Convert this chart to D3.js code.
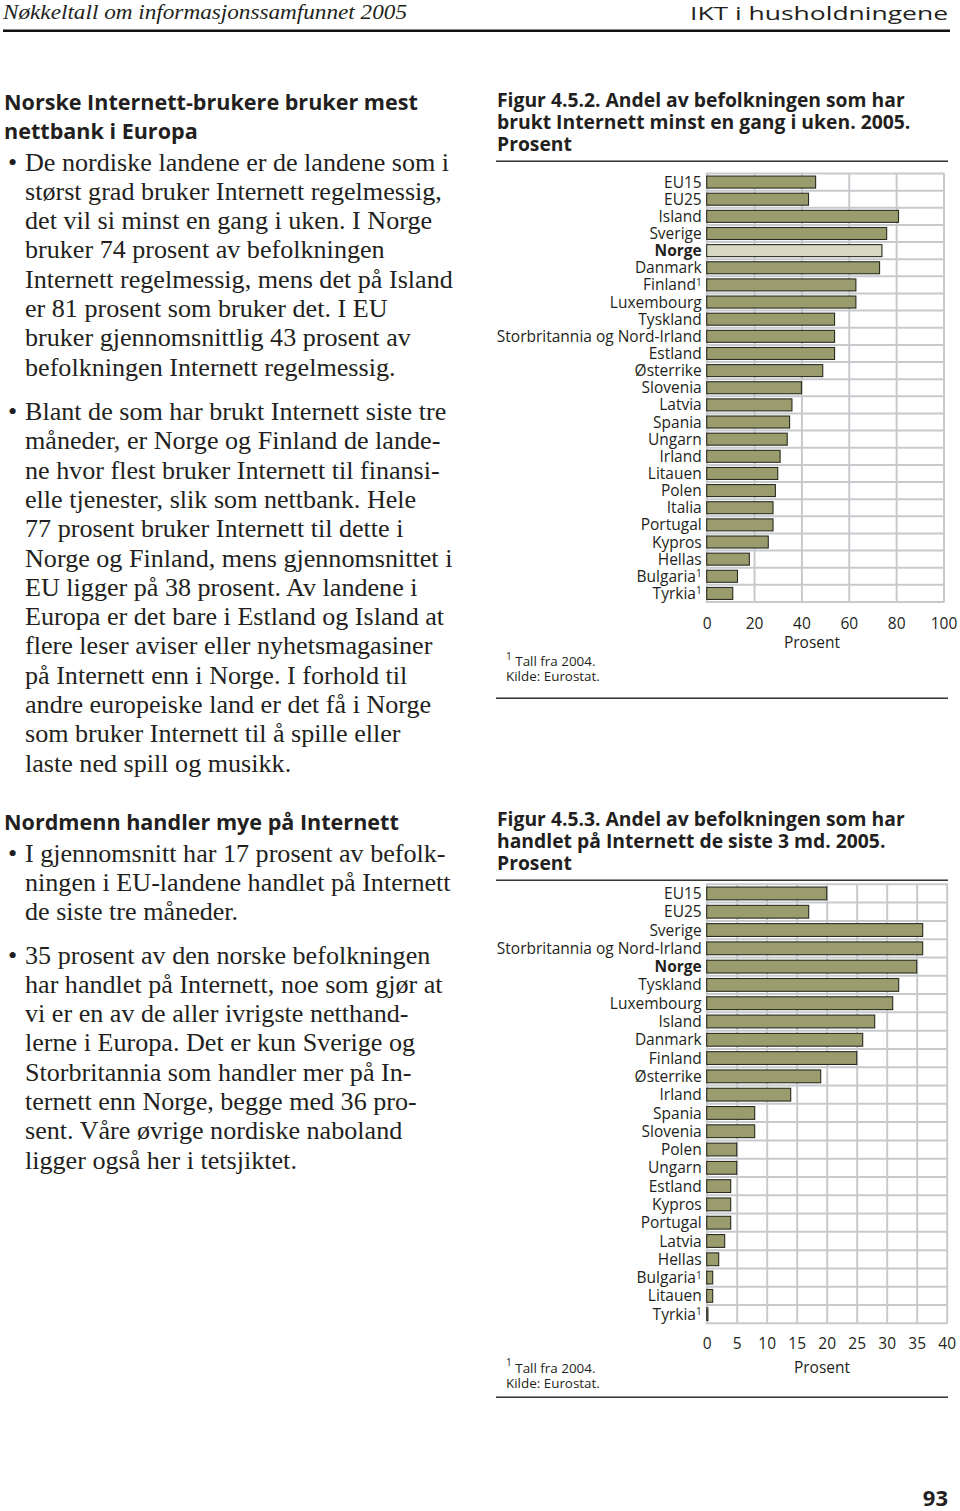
<!DOCTYPE html>
<html><head><meta charset="utf-8">
<script src="https://cdn.jsdelivr.net/npm/d3@7"></script>
<style>body{margin:0;background:#fff} svg{display:block}</style>
</head><body>
<script>
// ---------- DATA ----------
const countries1 = ["EU15","EU25","Island","Sverige","Norge","Danmark","Finland","Luxembourg","Tyskland","Storbritannia og Nord-Irland","Estland","Østerrike","Slovenia","Latvia","Spania","Ungarn","Irland","Litauen","Polen","Italia","Portugal","Kypros","Hellas","Bulgaria","Tyrkia"];
const values1 = [46,43,81,76,74,73,63,63,54,54,54,49,40,36,35,34,31,30,29,28,28,26,18,13,11];
const footnoted1 = ["Finland","Bulgaria","Tyrkia"];
const ticks1 = [0,20,40,60,80,100];

const countries2 = ["EU15","EU25","Sverige","Storbritannia og Nord-Irland","Norge","Tyskland","Luxembourg","Island","Danmark","Finland","Østerrike","Irland","Spania","Slovenia","Polen","Ungarn","Estland","Kypros","Portugal","Latvia","Hellas","Bulgaria","Litauen","Tyrkia"];
const values2 = [20,17,36,36,35,32,31,28,26,25,19,14,8,8,5,5,4,4,4,3,2,1,1,0.2];
const footnoted2 = ["Bulgaria","Tyrkia"];
const ticks2 = [0,5,10,15,20,25,30,35,40];

const title1 = ["Figur 4.5.2. Andel av befolkningen som har","brukt Internett minst en gang i uken. 2005.","Prosent"];
const title2 = ["Figur 4.5.3. Andel av befolkningen som har","handlet på Internett de siste 3 md. 2005.","Prosent"];
const axisTitle = "Prosent";
const footnote = ["Tall fra 2004.","Kilde: Eurostat."];

const head1 = ["Norske Internett-brukere bruker mest","nettbank i Europa"];
const bullets1 = [
 ["De nordiske landene er de landene som i","størst grad bruker Internett regelmessig,","det vil si minst en gang i uken. I Norge","bruker 74 prosent av befolkningen","Internett regelmessig, mens det på Island","er 81 prosent som bruker det. I EU","bruker gjennomsnittlig 43 prosent av","befolkningen Internett regelmessig."],
 ["Blant de som har brukt Internett siste tre","måneder, er Norge og Finland de lande-","ne hvor flest bruker Internett til finansi-","elle tjenester, slik som nettbank. Hele","77 prosent bruker Internett til dette i","Norge og Finland, mens gjennomsnittet i","EU ligger på 38 prosent. Av landene i","Europa er det bare i Estland og Island at","flere leser aviser eller nyhetsmagasiner","på Internett enn i Norge. I forhold til","andre europeiske land er det få i Norge","som bruker Internett til å spille eller","laste ned spill og musikk."]
];
const head2 = ["Nordmenn handler mye på Internett"];
const bullets2 = [
 ["I gjennomsnitt har 17 prosent av befolk-","ningen i EU-landene handlet på Internett","de siste tre  måneder."],
 ["35 prosent av den norske befolkningen","har handlet på Internett, noe som gjør at","vi er en av de aller ivrigste netthand-","lerne i Europa. Det er kun Sverige og","Storbritannia som handler mer på In-","ternett enn Norge, begge med 36 pro-","sent. Våre øvrige nordiske naboland","ligger også her i tetsjiktet."]
];

// ---------- STYLE ----------
const SANS = "'Open Sans', 'DejaVu Sans', sans-serif";
const SERIF = "'Liberation Serif', 'DejaVu Serif', serif";
const TEXT = "#231f20";
const OLIVE = "#9b9c6d";
const LIGHT = "#d7d8c2";
const GRID = "#c7cacd";

const svg = d3.select("body").append("svg").attr("width",960).attr("height",1511);

function measure(txt, fam, weight, style){
  const t = svg.append("text").attr("x",-2000).attr("y",-2000)
    .style("font-family",fam).style("font-size","100px")
    .style("font-weight",weight||400).style("font-style",style||"normal").text(txt);
  const w = t.node().getComputedTextLength(); t.remove(); return w;
}
function fit(txt, fam, weight, style, target){ return 100*target/measure(txt,fam,weight,style); }

const labelSize = fit("Storbritannia og Nord-Irland", SANS, 400, "normal", 205);
const titleSize = fit("Figur 4.5.2. Andel av befolkningen som har", SANS, 700, "normal", 408);
const headSize  = fit("Norske Internett-brukere bruker mest", SANS, 700, "normal", 414);
const bodySize  = fit("Internett regelmessig, mens det på Island", SERIF, 400, "normal", 428);
const footSize  = fit("Kilde: Eurostat.", SANS, 400, "normal", 94);

function txt(x,y,s,size,opts={}){
  return svg.append("text").attr("x",x).attr("y",y).text(s)
    .attr("fill",TEXT).style("font-family",opts.fam||SANS)
    .style("font-size",size+"px").style("font-weight",opts.weight||400)
    .style("font-style",opts.style||"normal").attr("text-anchor",opts.anchor||"start");
}

// ---------- PAGE HEADER ----------
txt(3,19,"Nøkkeltall om informasjonssamfunnet 2005",20.5,{fam:SERIF,style:"italic"})
  .attr("textLength",404).attr("lengthAdjust","spacingAndGlyphs");
txt(948,20,"IKT i husholdningene",18.5,{anchor:"end"})
  .attr("textLength",258).attr("lengthAdjust","spacingAndGlyphs");
svg.append("rect").attr("x",3).attr("y",29.5).attr("width",947).attr("height",2.5).attr("fill","#111");

// ---------- LEFT COLUMN ----------
const LH = 29.3;
head1.forEach((l,i)=>txt(4,109.5+i*29.5,l,headSize,{weight:700}));
function bulletBlock(lines,y0){
  txt(8,y0,"•",bodySize,{fam:SERIF});
  lines.forEach((l,i)=>txt(25,y0+i*LH,l,bodySize,{fam:SERIF}));
}
bulletBlock(bullets1[0],170.5);
bulletBlock(bullets1[1],420);
txt(4,830,head2[0],headSize,{weight:700});
bulletBlock(bullets2[0],861.5);
bulletBlock(bullets2[1],963.5);

// ---------- CHARTS ----------
function drawChart(o){
  const g = svg.append("g");
  o.title.forEach((l,i)=>txt(497,o.titleY+i*22,l,titleSize,{weight:700}));
  g.append("rect").attr("x",496).attr("y",o.ruleTop).attr("width",452).attr("height",1.4).attr("fill","#222");
  g.append("rect").attr("x",496).attr("y",o.ruleBottom).attr("width",452).attr("height",1.4).attr("fill","#222");

  const x = d3.scaleLinear().domain([0,o.max]).range([o.x0,o.x1]);
  const rows = d3.scaleBand().domain(o.countries).range([o.y0,o.y1]).padding(0);
  const yb = d3.scaleBand().domain(o.countries).range([o.y0,o.y1]).paddingInner(0.3).paddingOuter(0.15);

  g.append("g").attr("transform",`translate(0,${o.y1})`)
    .call(d3.axisBottom(x).tickValues(o.ticks).tickSize(-(o.y1-o.y0)).tickFormat(""))
    .call(a=>{a.select(".domain").remove(); a.selectAll("line").attr("stroke",GRID).attr("stroke-width",2);});
  const bounds = o.countries.map(c=>rows(c)).concat([o.y1]);
  g.selectAll("line.h").data(bounds).join("line").attr("class","h")
    .attr("x1",x(0)-1).attr("x2",x(o.max)+1).attr("y1",d=>d).attr("y2",d=>d)
    .attr("stroke",GRID).attr("stroke-width",2);

  const data = o.countries.map((c,i)=>({c,v:o.values[i]}));
  g.selectAll("rect.bar").data(data).join("rect").attr("class","bar")
    .attr("x",x(0)).attr("y",d=>yb(d.c)).attr("width",d=>x(d.v)-x(0)).attr("height",yb.bandwidth())
    .attr("fill",d=>d.c===o.highlight?LIGHT:OLIVE).attr("stroke","#2a2a20").attr("stroke-width",1.1);

  const lab = g.selectAll("text.lab").data(data).join("text").attr("class","lab")
    .attr("x",x(0)-5).attr("y",d=>rows(d.c)+rows.bandwidth()/2).attr("dy","0.36em")
    .attr("text-anchor","end").attr("fill",TEXT)
    .style("font-family",SANS).style("font-size",labelSize+"px")
    .style("font-weight",d=>d.c==="Norge"?700:400);
  lab.append("tspan").text(d=>d.c);
  lab.filter(d=>o.footnoted.includes(d.c)).append("tspan")
    .attr("dy","-0.45em").style("font-size",(labelSize*0.65)+"px").text("1");

  g.append("g").attr("transform",`translate(0,${o.tickY})`)
    .call(d3.axisBottom(x).tickValues(o.ticks).tickSize(0).tickPadding(0).tickFormat(d3.format("d")))
    .call(a=>{a.select(".domain").remove();
      a.selectAll("text").attr("fill",TEXT).attr("dy",0).style("font-family",SANS).style("font-size",labelSize+"px");});
  txt(o.axisTitleX,o.axisTitleY,axisTitle,labelSize,{anchor:"middle"});

  const f = txt(506,o.footY,"",footSize);
  f.append("tspan").attr("dy","-0.45em").style("font-size",(footSize*0.75)+"px").text("1");
  f.append("tspan").attr("dy","0.45em").text(" "+footnote[0]);
  txt(506,o.footY+16.5,footnote[1],footSize);
}

drawChart({countries:countries1, values:values1, footnoted:footnoted1, ticks:ticks1, max:100,
  highlight:"Norge", title:title1, titleY:107, ruleTop:160.5, ruleBottom:697.5,
  x0:706.7, x1:943.5, y0:173.5, y1:602, tickY:628.5, axisTitleX:812, axisTitleY:648,
  footY:664.5});
drawChart({countries:countries2, values:values2, footnoted:footnoted2, ticks:ticks2, max:40,
  highlight:null, title:title2, titleY:826, ruleTop:879.5, ruleBottom:1396.5,
  x0:706.7, x1:946.7, y0:884.3, y1:1323.3, tickY:1348.5, axisTitleX:822, axisTitleY:1372.5,
  footY:1371});

txt(948,1506,"93",22,{weight:700,anchor:"end"});
</script>
</body></html>
